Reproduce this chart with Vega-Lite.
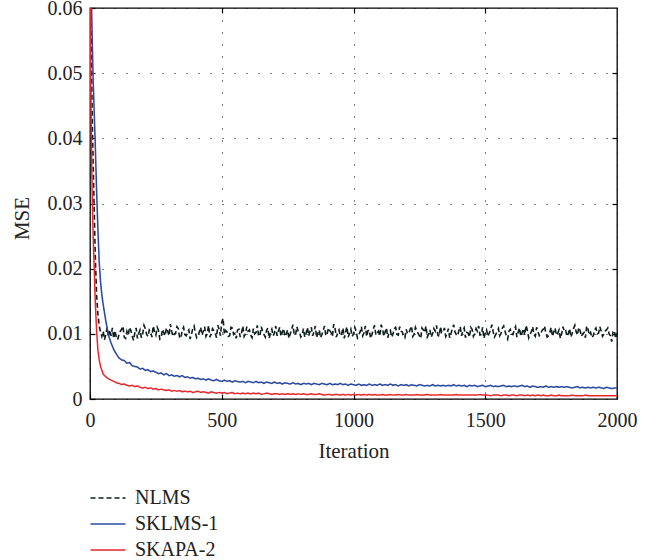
{
"$schema": "https://vega.github.io/schema/vega-lite/v6.json",
"width": 527, "height": 391,
"autosize": {"type": "none"},
"padding": {"left": 90, "top": 8, "right": 45, "bottom": 161},
"config": {
 "font": "Liberation Serif",
 "view": {"stroke": "black", "strokeWidth": 1.3},
 "axis": {"labelFont": "Liberation Serif", "titleFont": "Liberation Serif", "labelFontSize": 20, "titleFontSize": 21, "labelColor": "#222", "titleColor": "#222", "titleFontWeight": "normal", "domain": false, "tickColor": "black", "tickSize": -5, "tickWidth": 1.2, "labelFlush": false},
 "legend": {"labelFont": "Liberation Serif", "labelFontSize": 20, "labelColor": "#222"}
},
"datasets": {"main": [
{"x":0,"NLMS":0.07,"SKLMS-1":0.07,"SKAPA-2":0.07},
{"x":3,"NLMS":0.06,"SKLMS-1":0.065,"SKAPA-2":0.048},
{"x":6,"NLMS":0.05,"SKLMS-1":0.06,"SKAPA-2":0.037},
{"x":9,"NLMS":0.042,"SKLMS-1":0.054,"SKAPA-2":0.03},
{"x":12,"NLMS":0.036,"SKLMS-1":0.049,"SKAPA-2":0.025},
{"x":16,"NLMS":0.029,"SKLMS-1":0.044,"SKAPA-2":0.02},
{"x":20,"NLMS":0.022,"SKLMS-1":0.039,"SKAPA-2":0.015},
{"x":25,"NLMS":0.016,"SKLMS-1":0.032,"SKAPA-2":0.0105},
{"x":30,"NLMS":0.013,"SKLMS-1":0.026,"SKAPA-2":0.0075},
{"x":35,"NLMS":0.0112,"SKLMS-1":0.021,"SKAPA-2":0.006},
{"x":40,"NLMS":0.0103,"SKLMS-1":0.018,"SKAPA-2":0.005},
{"x":45,"NLMS":0.0096,"SKLMS-1":0.016,"SKAPA-2":0.0044},
{"x":50,"NLMS":0.0104,"SKLMS-1":0.0145,"SKAPA-2":0.0038},
{"x":55,"NLMS":0.0091},
{"x":60,"NLMS":0.0099,"SKLMS-1":0.012,"SKAPA-2":0.0034},
{"x":65,"NLMS":0.011},
{"x":70,"NLMS":0.0095,"SKLMS-1":0.0098,"SKAPA-2":0.0031},
{"x":75,"NLMS":0.0106},
{"x":80,"NLMS":0.0097,"SKLMS-1":0.0086,"SKAPA-2":0.0029},
{"x":85,"NLMS":0.0109},
{"x":90,"NLMS":0.0093,"SKLMS-1":0.0076,"SKAPA-2":0.0027},
{"x":95,"NLMS":0.0105},
{"x":100,"NLMS":0.0094,"SKLMS-1":0.0069,"SKAPA-2":0.0025},
{"x":105,"NLMS":0.0091},
{"x":110,"NLMS":0.0099,"SKLMS-1":0.0063,"SKAPA-2":0.0024},
{"x":115,"NLMS":0.0104},
{"x":120,"NLMS":0.0107,"SKLMS-1":0.006,"SKAPA-2":0.0022},
{"x":125,"NLMS":0.0112},
{"x":130,"NLMS":0.0095,"SKLMS-1":0.0059,"SKAPA-2":0.0023},
{"x":135,"NLMS":0.0093},
{"x":140,"NLMS":0.0104,"SKLMS-1":0.0055,"SKAPA-2":0.0021},
{"x":145,"NLMS":0.0098},
{"x":150,"NLMS":0.011,"SKLMS-1":0.0056,"SKAPA-2":0.002},
{"x":155,"NLMS":0.0105},
{"x":160,"NLMS":0.0097,"SKLMS-1":0.0051,"SKAPA-2":0.0021},
{"x":165,"NLMS":0.009},
{"x":170,"NLMS":0.0101,"SKLMS-1":0.005,"SKAPA-2":0.0019},
{"x":175,"NLMS":0.0109},
{"x":180,"NLMS":0.0093,"SKLMS-1":0.0049,"SKAPA-2":0.002},
{"x":185,"NLMS":0.0101},
{"x":190,"NLMS":0.0106,"SKLMS-1":0.0046,"SKAPA-2":0.0018},
{"x":195,"NLMS":0.0094},
{"x":200,"NLMS":0.01,"SKLMS-1":0.0047,"SKAPA-2":0.0017},
{"x":205,"NLMS":0.0113},
{"x":210,"NLMS":0.0108,"SKLMS-1":0.0044,"SKAPA-2":0.0018},
{"x":215,"NLMS":0.0099},
{"x":220,"NLMS":0.0096,"SKLMS-1":0.0045,"SKAPA-2":0.0016},
{"x":225,"NLMS":0.0106},
{"x":230,"NLMS":0.0103,"SKLMS-1":0.0042,"SKAPA-2":0.0017},
{"x":235,"NLMS":0.0095},
{"x":240,"NLMS":0.0112,"SKLMS-1":0.0043,"SKAPA-2":0.0015},
{"x":245,"NLMS":0.0103},
{"x":250,"NLMS":0.0098,"SKLMS-1":0.0041,"SKAPA-2":0.0016},
{"x":255,"NLMS":0.011},
{"x":260,"NLMS":0.0105,"SKLMS-1":0.0039,"SKAPA-2":0.0014},
{"x":265,"NLMS":0.0092},
{"x":270,"NLMS":0.0094,"SKLMS-1":0.004,"SKAPA-2":0.0015},
{"x":275,"NLMS":0.0107},
{"x":280,"NLMS":0.0102,"SKLMS-1":0.0037,"SKAPA-2":0.0014},
{"x":285,"NLMS":0.0097},
{"x":290,"NLMS":0.0109,"SKLMS-1":0.0039,"SKAPA-2":0.0013},
{"x":295,"NLMS":0.0104},
{"x":300,"NLMS":0.0097,"SKLMS-1":0.0036,"SKAPA-2":0.0014},
{"x":305,"NLMS":0.0115},
{"x":310,"NLMS":0.0104,"SKLMS-1":0.0037,"SKAPA-2":0.0012},
{"x":315,"NLMS":0.0096},
{"x":320,"NLMS":0.01,"SKLMS-1":0.0035,"SKAPA-2":0.0013},
{"x":325,"NLMS":0.0101},
{"x":330,"NLMS":0.0111,"SKLMS-1":0.0036,"SKAPA-2":0.0012},
{"x":335,"NLMS":0.0108},
{"x":340,"NLMS":0.0095,"SKLMS-1":0.0034,"SKAPA-2":0.0013},
{"x":345,"NLMS":0.0093},
{"x":350,"NLMS":0.0106,"SKLMS-1":0.0036,"SKAPA-2":0.0011},
{"x":355,"NLMS":0.011},
{"x":360,"NLMS":0.0099,"SKLMS-1":0.0033,"SKAPA-2":0.0012},
{"x":365,"NLMS":0.0097},
{"x":370,"NLMS":0.0103,"SKLMS-1":0.0034,"SKAPA-2":0.0011},
{"x":375,"NLMS":0.0106},
{"x":380,"NLMS":0.0092,"SKLMS-1":0.0032,"SKAPA-2":0.0012},
{"x":385,"NLMS":0.0099},
{"x":390,"NLMS":0.0108,"SKLMS-1":0.0033,"SKAPA-2":0.001},
{"x":395,"NLMS":0.0112},
{"x":400,"NLMS":0.0101,"SKLMS-1":0.0031,"SKAPA-2":0.0011},
{"x":405,"NLMS":0.0094},
{"x":410,"NLMS":0.0097,"SKLMS-1":0.0032,"SKAPA-2":0.0012},
{"x":415,"NLMS":0.0103},
{"x":420,"NLMS":0.011,"SKLMS-1":0.003,"SKAPA-2":0.001},
{"x":425,"NLMS":0.0098},
{"x":430,"NLMS":0.0104,"SKLMS-1":0.0031,"SKAPA-2":0.0011},
{"x":435,"NLMS":0.0111},
{"x":440,"NLMS":0.0096,"SKLMS-1":0.0029,"SKAPA-2":0.001},
{"x":445,"NLMS":0.01},
{"x":450,"NLMS":0.0113,"SKLMS-1":0.0031,"SKAPA-2":0.0009},
{"x":455,"NLMS":0.0095},
{"x":460,"NLMS":0.01,"SKLMS-1":0.0029,"SKAPA-2":0.0011},
{"x":465,"NLMS":0.0108},
{"x":470,"NLMS":0.0105,"SKLMS-1":0.0028,"SKAPA-2":0.001},
{"x":475,"NLMS":0.0102},
{"x":480,"NLMS":0.0094,"SKLMS-1":0.003,"SKAPA-2":0.0009},
{"x":485,"NLMS":0.0113},
{"x":490,"NLMS":0.0107,"SKLMS-1":0.0028,"SKAPA-2":0.001},
{"x":495,"NLMS":0.0097},
{"x":500,"NLMS":0.0118,"SKLMS-1":0.0027,"SKAPA-2":0.0009},
{"x":505,"NLMS":0.0124},
{"x":510,"NLMS":0.0099,"SKLMS-1":0.0029,"SKAPA-2":0.001},
{"x":515,"NLMS":0.0105},
{"x":520,"NLMS":0.0103,"SKLMS-1":0.0027,"SKAPA-2":0.0008},
{"x":525,"NLMS":0.0096},
{"x":530,"NLMS":0.0097,"SKLMS-1":0.0028,"SKAPA-2":0.0009},
{"x":535,"NLMS":0.011},
{"x":540,"NLMS":0.0109,"SKLMS-1":0.0026,"SKAPA-2":0.001},
{"x":545,"NLMS":0.0099},
{"x":550,"NLMS":0.0101,"SKLMS-1":0.0028,"SKAPA-2":0.0008},
{"x":555,"NLMS":0.0093},
{"x":560,"NLMS":0.0106,"SKLMS-1":0.0027,"SKAPA-2":0.0009},
{"x":565,"NLMS":0.0107},
{"x":570,"NLMS":0.0095,"SKLMS-1":0.0026,"SKAPA-2":0.0008},
{"x":575,"NLMS":0.0101},
{"x":580,"NLMS":0.0112,"SKLMS-1":0.0027,"SKAPA-2":0.0009},
{"x":585,"NLMS":0.0096},
{"x":590,"NLMS":0.01,"SKLMS-1":0.0025,"SKAPA-2":0.0008},
{"x":595,"NLMS":0.0111},
{"x":600,"NLMS":0.0104,"SKLMS-1":0.0027,"SKAPA-2":0.0009},
{"x":605,"NLMS":0.0106},
{"x":610,"NLMS":0.0098,"SKLMS-1":0.0026,"SKAPA-2":0.0008},
{"x":615,"NLMS":0.0094},
{"x":620,"NLMS":0.0108,"SKLMS-1":0.0025,"SKAPA-2":0.0009},
{"x":625,"NLMS":0.01},
{"x":630,"NLMS":0.0102,"SKLMS-1":0.0027,"SKAPA-2":0.0008},
{"x":635,"NLMS":0.0113},
{"x":640,"NLMS":0.0096,"SKLMS-1":0.0025,"SKAPA-2":0.0009},
{"x":645,"NLMS":0.0098},
{"x":650,"NLMS":0.0111,"SKLMS-1":0.0026,"SKAPA-2":0.0007},
{"x":655,"NLMS":0.0104},
{"x":660,"NLMS":0.0099,"SKLMS-1":0.0024,"SKAPA-2":0.0008},
{"x":665,"NLMS":0.0095},
{"x":670,"NLMS":0.0105,"SKLMS-1":0.0026,"SKAPA-2":0.0009},
{"x":675,"NLMS":0.0109},
{"x":680,"NLMS":0.0093,"SKLMS-1":0.0025,"SKAPA-2":0.0008},
{"x":685,"NLMS":0.0102},
{"x":690,"NLMS":0.0107,"SKLMS-1":0.0024,"SKAPA-2":0.0007},
{"x":695,"NLMS":0.0097},
{"x":700,"NLMS":0.0101,"SKLMS-1":0.0026,"SKAPA-2":0.0008},
{"x":705,"NLMS":0.0112},
{"x":710,"NLMS":0.0097,"SKLMS-1":0.0024,"SKAPA-2":0.0008},
{"x":715,"NLMS":0.0104},
{"x":720,"NLMS":0.011,"SKLMS-1":0.0025,"SKAPA-2":0.0007},
{"x":725,"NLMS":0.0096},
{"x":730,"NLMS":0.0103,"SKLMS-1":0.0023,"SKAPA-2":0.0008},
{"x":735,"NLMS":0.0108},
{"x":740,"NLMS":0.0096,"SKLMS-1":0.0025,"SKAPA-2":0.0007},
{"x":745,"NLMS":0.01},
{"x":750,"NLMS":0.0106,"SKLMS-1":0.0024,"SKAPA-2":0.0008},
{"x":755,"NLMS":0.0093},
{"x":760,"NLMS":0.01,"SKLMS-1":0.0023,"SKAPA-2":0.0007},
{"x":765,"NLMS":0.0106},
{"x":770,"NLMS":0.0114,"SKLMS-1":0.0025,"SKAPA-2":0.0008},
{"x":775,"NLMS":0.0099},
{"x":780,"NLMS":0.0098,"SKLMS-1":0.0023,"SKAPA-2":0.0007},
{"x":785,"NLMS":0.0111},
{"x":790,"NLMS":0.0104,"SKLMS-1":0.0024,"SKAPA-2":0.0008},
{"x":795,"NLMS":0.0103},
{"x":800,"NLMS":0.0095,"SKLMS-1":0.0022,"SKAPA-2":0.0007},
{"x":805,"NLMS":0.0098},
{"x":810,"NLMS":0.0108,"SKLMS-1":0.0024,"SKAPA-2":0.0008},
{"x":815,"NLMS":0.0095},
{"x":820,"NLMS":0.0101,"SKLMS-1":0.0023,"SKAPA-2":0.0007},
{"x":825,"NLMS":0.011},
{"x":830,"NLMS":0.0097,"SKLMS-1":0.0024,"SKAPA-2":0.0007},
{"x":835,"NLMS":0.0104},
{"x":840,"NLMS":0.011,"SKLMS-1":0.0022,"SKAPA-2":0.0008},
{"x":845,"NLMS":0.0097},
{"x":850,"NLMS":0.0103,"SKLMS-1":0.0024,"SKAPA-2":0.0007},
{"x":855,"NLMS":0.0112},
{"x":860,"NLMS":0.0094,"SKLMS-1":0.0023,"SKAPA-2":0.0007},
{"x":865,"NLMS":0.0101},
{"x":870,"NLMS":0.0106,"SKLMS-1":0.0022,"SKAPA-2":0.0008},
{"x":875,"NLMS":0.0094},
{"x":880,"NLMS":0.0099,"SKLMS-1":0.0024,"SKAPA-2":0.0007},
{"x":885,"NLMS":0.0105},
{"x":890,"NLMS":0.0112,"SKLMS-1":0.0023,"SKAPA-2":0.0006},
{"x":895,"NLMS":0.0097},
{"x":900,"NLMS":0.01,"SKLMS-1":0.0022,"SKAPA-2":0.0007},
{"x":905,"NLMS":0.0109},
{"x":910,"NLMS":0.0105,"SKLMS-1":0.0024,"SKAPA-2":0.0007},
{"x":915,"NLMS":0.0102},
{"x":920,"NLMS":0.0096,"SKLMS-1":0.0022,"SKAPA-2":0.0006},
{"x":925,"NLMS":0.0115},
{"x":930,"NLMS":0.0108,"SKLMS-1":0.0023,"SKAPA-2":0.0007},
{"x":935,"NLMS":0.0095},
{"x":940,"NLMS":0.0101,"SKLMS-1":0.0022,"SKAPA-2":0.0007},
{"x":945,"NLMS":0.0106},
{"x":950,"NLMS":0.0097,"SKLMS-1":0.0024,"SKAPA-2":0.0006},
{"x":955,"NLMS":0.01},
{"x":960,"NLMS":0.0109,"SKLMS-1":0.0022,"SKAPA-2":0.0007},
{"x":965,"NLMS":0.0093},
{"x":970,"NLMS":0.0103,"SKLMS-1":0.0023,"SKAPA-2":0.0006},
{"x":975,"NLMS":0.0111},
{"x":980,"NLMS":0.0095,"SKLMS-1":0.0021,"SKAPA-2":0.0007},
{"x":985,"NLMS":0.0101},
{"x":990,"NLMS":0.0107,"SKLMS-1":0.0023,"SKAPA-2":0.0006},
{"x":995,"NLMS":0.0096},
{"x":1000,"NLMS":0.01,"SKLMS-1":0.0022,"SKAPA-2":0.0007},
{"x":1005,"NLMS":0.011},
{"x":1010,"NLMS":0.0104,"SKLMS-1":0.0021,"SKAPA-2":0.0006},
{"x":1015,"NLMS":0.0094},
{"x":1020,"NLMS":0.0098,"SKLMS-1":0.0023,"SKAPA-2":0.0007},
{"x":1025,"NLMS":0.0103},
{"x":1030,"NLMS":0.0111,"SKLMS-1":0.0021,"SKAPA-2":0.0006},
{"x":1035,"NLMS":0.0097},
{"x":1040,"NLMS":0.0102,"SKLMS-1":0.0022,"SKAPA-2":0.0007},
{"x":1045,"NLMS":0.0112},
{"x":1050,"NLMS":0.0096,"SKLMS-1":0.0021,"SKAPA-2":0.0006},
{"x":1055,"NLMS":0.0105},
{"x":1060,"NLMS":0.0106,"SKLMS-1":0.0023,"SKAPA-2":0.0007},
{"x":1065,"NLMS":0.0093},
{"x":1070,"NLMS":0.0099,"SKLMS-1":0.0021,"SKAPA-2":0.0006},
{"x":1075,"NLMS":0.0107},
{"x":1080,"NLMS":0.0113,"SKLMS-1":0.0022,"SKAPA-2":0.0007},
{"x":1085,"NLMS":0.0098},
{"x":1090,"NLMS":0.0101,"SKLMS-1":0.0021,"SKAPA-2":0.0006},
{"x":1095,"NLMS":0.0104},
{"x":1100,"NLMS":0.0097,"SKLMS-1":0.0023,"SKAPA-2":0.0006},
{"x":1105,"NLMS":0.0114},
{"x":1110,"NLMS":0.0108,"SKLMS-1":0.0021,"SKAPA-2":0.0007},
{"x":1115,"NLMS":0.0096},
{"x":1120,"NLMS":0.0103,"SKLMS-1":0.0022,"SKAPA-2":0.0006},
{"x":1125,"NLMS":0.0109},
{"x":1130,"NLMS":0.0094,"SKLMS-1":0.0021,"SKAPA-2":0.0006},
{"x":1135,"NLMS":0.0102},
{"x":1140,"NLMS":0.0105,"SKLMS-1":0.0023,"SKAPA-2":0.0007},
{"x":1145,"NLMS":0.0095},
{"x":1150,"NLMS":0.01,"SKLMS-1":0.0021,"SKAPA-2":0.0006},
{"x":1155,"NLMS":0.0108},
{"x":1160,"NLMS":0.011,"SKLMS-1":0.0022,"SKAPA-2":0.0006},
{"x":1165,"NLMS":0.0099},
{"x":1170,"NLMS":0.0098,"SKLMS-1":0.002,"SKAPA-2":0.0007},
{"x":1175,"NLMS":0.0111},
{"x":1180,"NLMS":0.0104,"SKLMS-1":0.0022,"SKAPA-2":0.0006},
{"x":1185,"NLMS":0.0103},
{"x":1190,"NLMS":0.0096,"SKLMS-1":0.0021,"SKAPA-2":0.0006},
{"x":1195,"NLMS":0.0094},
{"x":1200,"NLMS":0.0107,"SKLMS-1":0.0022,"SKAPA-2":0.0007},
{"x":1205,"NLMS":0.01},
{"x":1210,"NLMS":0.0101,"SKLMS-1":0.002,"SKAPA-2":0.0006},
{"x":1215,"NLMS":0.0107},
{"x":1220,"NLMS":0.0112,"SKLMS-1":0.0022,"SKAPA-2":0.0006},
{"x":1225,"NLMS":0.0096},
{"x":1230,"NLMS":0.0099,"SKLMS-1":0.0021,"SKAPA-2":0.0006},
{"x":1235,"NLMS":0.011},
{"x":1240,"NLMS":0.0105,"SKLMS-1":0.002,"SKAPA-2":0.0007},
{"x":1245,"NLMS":0.0101},
{"x":1250,"NLMS":0.0097,"SKLMS-1":0.0022,"SKAPA-2":0.0006},
{"x":1255,"NLMS":0.0093},
{"x":1260,"NLMS":0.0109,"SKLMS-1":0.0021,"SKAPA-2":0.0006},
{"x":1265,"NLMS":0.0106},
{"x":1270,"NLMS":0.0102,"SKLMS-1":0.002,"SKAPA-2":0.0006},
{"x":1275,"NLMS":0.0112},
{"x":1280,"NLMS":0.0095,"SKLMS-1":0.0021,"SKAPA-2":0.0007},
{"x":1285,"NLMS":0.0099},
{"x":1290,"NLMS":0.0106,"SKLMS-1":0.002,"SKAPA-2":0.0006},
{"x":1295,"NLMS":0.0095},
{"x":1300,"NLMS":0.01,"SKLMS-1":0.0022,"SKAPA-2":0.0006},
{"x":1305,"NLMS":0.0108},
{"x":1310,"NLMS":0.0104,"SKLMS-1":0.002,"SKAPA-2":0.0006},
{"x":1315,"NLMS":0.0113},
{"x":1320,"NLMS":0.0098,"SKLMS-1":0.0021,"SKAPA-2":0.0006},
{"x":1325,"NLMS":0.0096},
{"x":1330,"NLMS":0.0111,"SKLMS-1":0.002,"SKAPA-2":0.0007},
{"x":1335,"NLMS":0.0102},
{"x":1340,"NLMS":0.0103,"SKLMS-1":0.0021,"SKAPA-2":0.0006},
{"x":1345,"NLMS":0.0109},
{"x":1350,"NLMS":0.0096,"SKLMS-1":0.002,"SKAPA-2":0.0006},
{"x":1355,"NLMS":0.01},
{"x":1360,"NLMS":0.0108,"SKLMS-1":0.0021,"SKAPA-2":0.0006},
{"x":1365,"NLMS":0.0094},
{"x":1370,"NLMS":0.0101,"SKLMS-1":0.002,"SKAPA-2":0.0006},
{"x":1375,"NLMS":0.0107},
{"x":1380,"NLMS":0.0114,"SKLMS-1":0.0022,"SKAPA-2":0.0006},
{"x":1385,"NLMS":0.0103},
{"x":1390,"NLMS":0.0099,"SKLMS-1":0.002,"SKAPA-2":0.0007},
{"x":1395,"NLMS":0.0097},
{"x":1400,"NLMS":0.0105,"SKLMS-1":0.0021,"SKAPA-2":0.0006},
{"x":1405,"NLMS":0.0111},
{"x":1410,"NLMS":0.0097,"SKLMS-1":0.002,"SKAPA-2":0.0006},
{"x":1415,"NLMS":0.0105},
{"x":1420,"NLMS":0.0109,"SKLMS-1":0.0021,"SKAPA-2":0.0006},
{"x":1425,"NLMS":0.0094},
{"x":1430,"NLMS":0.0102,"SKLMS-1":0.0019,"SKAPA-2":0.0006},
{"x":1435,"NLMS":0.0101},
{"x":1440,"NLMS":0.0095,"SKLMS-1":0.0021,"SKAPA-2":0.0006},
{"x":1445,"NLMS":0.011},
{"x":1450,"NLMS":0.0107,"SKLMS-1":0.002,"SKAPA-2":0.0006},
{"x":1455,"NLMS":0.0096},
{"x":1460,"NLMS":0.01,"SKLMS-1":0.0021,"SKAPA-2":0.0006},
{"x":1465,"NLMS":0.0108},
{"x":1470,"NLMS":0.0104,"SKLMS-1":0.0019,"SKAPA-2":0.0006},
{"x":1475,"NLMS":0.0112},
{"x":1480,"NLMS":0.0098,"SKLMS-1":0.002,"SKAPA-2":0.0007},
{"x":1485,"NLMS":0.0099},
{"x":1490,"NLMS":0.011,"SKLMS-1":0.0021,"SKAPA-2":0.0006},
{"x":1495,"NLMS":0.0093},
{"x":1500,"NLMS":0.0101,"SKLMS-1":0.0019,"SKAPA-2":0.0006},
{"x":1505,"NLMS":0.0106},
{"x":1510,"NLMS":0.0096,"SKLMS-1":0.002,"SKAPA-2":0.0006},
{"x":1515,"NLMS":0.0101},
{"x":1520,"NLMS":0.0106,"SKLMS-1":0.0021,"SKAPA-2":0.0005},
{"x":1525,"NLMS":0.0114},
{"x":1530,"NLMS":0.0103,"SKLMS-1":0.0019,"SKAPA-2":0.0006},
{"x":1535,"NLMS":0.0095},
{"x":1540,"NLMS":0.0099,"SKLMS-1":0.002,"SKAPA-2":0.0006},
{"x":1545,"NLMS":0.0103},
{"x":1550,"NLMS":0.0108,"SKLMS-1":0.0019,"SKAPA-2":0.0006},
{"x":1555,"NLMS":0.0097},
{"x":1560,"NLMS":0.0101,"SKLMS-1":0.002,"SKAPA-2":0.0005},
{"x":1565,"NLMS":0.0109},
{"x":1570,"NLMS":0.0112,"SKLMS-1":0.0021,"SKAPA-2":0.0006},
{"x":1575,"NLMS":0.0104},
{"x":1580,"NLMS":0.0097,"SKLMS-1":0.0019,"SKAPA-2":0.0006},
{"x":1585,"NLMS":0.0092},
{"x":1590,"NLMS":0.0104,"SKLMS-1":0.002,"SKAPA-2":0.0005},
{"x":1595,"NLMS":0.0107},
{"x":1600,"NLMS":0.01,"SKLMS-1":0.0019,"SKAPA-2":0.0006},
{"x":1605,"NLMS":0.0099},
{"x":1610,"NLMS":0.0106,"SKLMS-1":0.002,"SKAPA-2":0.0006},
{"x":1615,"NLMS":0.0111},
{"x":1620,"NLMS":0.0095,"SKLMS-1":0.0019,"SKAPA-2":0.0005},
{"x":1625,"NLMS":0.0102},
{"x":1630,"NLMS":0.0109,"SKLMS-1":0.002,"SKAPA-2":0.0006},
{"x":1635,"NLMS":0.0096},
{"x":1640,"NLMS":0.0102,"SKLMS-1":0.0021,"SKAPA-2":0.0006},
{"x":1645,"NLMS":0.0108},
{"x":1650,"NLMS":0.0098,"SKLMS-1":0.0019,"SKAPA-2":0.0005},
{"x":1655,"NLMS":0.0113},
{"x":1660,"NLMS":0.0105,"SKLMS-1":0.002,"SKAPA-2":0.0006},
{"x":1665,"NLMS":0.0094},
{"x":1670,"NLMS":0.01,"SKLMS-1":0.0018,"SKAPA-2":0.0005},
{"x":1675,"NLMS":0.0103},
{"x":1680,"NLMS":0.0111,"SKLMS-1":0.002,"SKAPA-2":0.0006},
{"x":1685,"NLMS":0.0099},
{"x":1690,"NLMS":0.0096,"SKLMS-1":0.0019,"SKAPA-2":0.0005},
{"x":1695,"NLMS":0.011},
{"x":1700,"NLMS":0.0104,"SKLMS-1":0.0018,"SKAPA-2":0.0006},
{"x":1705,"NLMS":0.0097},
{"x":1710,"NLMS":0.0099,"SKLMS-1":0.0019,"SKAPA-2":0.0005},
{"x":1715,"NLMS":0.0105},
{"x":1720,"NLMS":0.0107,"SKLMS-1":0.0018,"SKAPA-2":0.0006},
{"x":1725,"NLMS":0.0112},
{"x":1730,"NLMS":0.0101,"SKLMS-1":0.002,"SKAPA-2":0.0005},
{"x":1735,"NLMS":0.0095},
{"x":1740,"NLMS":0.0097,"SKLMS-1":0.0018,"SKAPA-2":0.0005},
{"x":1745,"NLMS":0.0102},
{"x":1750,"NLMS":0.011,"SKLMS-1":0.0019,"SKAPA-2":0.0006},
{"x":1755,"NLMS":0.0096},
{"x":1760,"NLMS":0.0103,"SKLMS-1":0.0018,"SKAPA-2":0.0005},
{"x":1765,"NLMS":0.0109},
{"x":1770,"NLMS":0.0098,"SKLMS-1":0.0019,"SKAPA-2":0.0005},
{"x":1775,"NLMS":0.0101},
{"x":1780,"NLMS":0.0106,"SKLMS-1":0.0018,"SKAPA-2":0.0006},
{"x":1785,"NLMS":0.0093},
{"x":1790,"NLMS":0.01,"SKLMS-1":0.0019,"SKAPA-2":0.0005},
{"x":1795,"NLMS":0.0111},
{"x":1800,"NLMS":0.0104,"SKLMS-1":0.0018,"SKAPA-2":0.0005},
{"x":1805,"NLMS":0.0106},
{"x":1810,"NLMS":0.0096,"SKLMS-1":0.0019,"SKAPA-2":0.0005},
{"x":1815,"NLMS":0.01},
{"x":1820,"NLMS":0.0108,"SKLMS-1":0.0018,"SKAPA-2":0.0005},
{"x":1825,"NLMS":0.0095},
{"x":1830,"NLMS":0.0101,"SKLMS-1":0.0017,"SKAPA-2":0.0006},
{"x":1835,"NLMS":0.0108},
{"x":1840,"NLMS":0.0113,"SKLMS-1":0.0018,"SKAPA-2":0.0005},
{"x":1845,"NLMS":0.0103},
{"x":1850,"NLMS":0.0098,"SKLMS-1":0.0019,"SKAPA-2":0.0005},
{"x":1855,"NLMS":0.011},
{"x":1860,"NLMS":0.0105,"SKLMS-1":0.0017,"SKAPA-2":0.0005},
{"x":1865,"NLMS":0.0096},
{"x":1870,"NLMS":0.01,"SKLMS-1":0.0018,"SKAPA-2":0.0005},
{"x":1875,"NLMS":0.0102},
{"x":1880,"NLMS":0.0094,"SKLMS-1":0.0017,"SKAPA-2":0.0006},
{"x":1885,"NLMS":0.0112},
{"x":1890,"NLMS":0.0107,"SKLMS-1":0.0018,"SKAPA-2":0.0005},
{"x":1895,"NLMS":0.0098},
{"x":1900,"NLMS":0.0102,"SKLMS-1":0.0017,"SKAPA-2":0.0005},
{"x":1905,"NLMS":0.0094},
{"x":1910,"NLMS":0.0097,"SKLMS-1":0.0018,"SKAPA-2":0.0005},
{"x":1915,"NLMS":0.0106},
{"x":1920,"NLMS":0.0109,"SKLMS-1":0.0017,"SKAPA-2":0.0005},
{"x":1925,"NLMS":0.01},
{"x":1930,"NLMS":0.0101,"SKLMS-1":0.0018,"SKAPA-2":0.0005},
{"x":1935,"NLMS":0.0111},
{"x":1940,"NLMS":0.0104,"SKLMS-1":0.0017,"SKAPA-2":0.0005},
{"x":1945,"NLMS":0.0096},
{"x":1950,"NLMS":0.0099,"SKLMS-1":0.0016,"SKAPA-2":0.0005},
{"x":1955,"NLMS":0.0104},
{"x":1960,"NLMS":0.0106,"SKLMS-1":0.0018,"SKAPA-2":0.0005},
{"x":1965,"NLMS":0.0109},
{"x":1970,"NLMS":0.01,"SKLMS-1":0.0017,"SKAPA-2":0.0005},
{"x":1975,"NLMS":0.0097},
{"x":1980,"NLMS":0.0088,"SKLMS-1":0.0016,"SKAPA-2":0.0005},
{"x":1985,"NLMS":0.0103},
{"x":1990,"NLMS":0.0105,"SKLMS-1":0.0017,"SKAPA-2":0.0005},
{"x":1995,"NLMS":0.0093},
{"x":2000,"NLMS":0.0101,"SKLMS-1":0.0017,"SKAPA-2":0.0005}
]},
"data": {"name": "main"},
"transform": [{"fold": ["NLMS", "SKLMS-1", "SKAPA-2"], "as": ["series", "mse"]}, {"filter": "isValid(datum.mse)"}],
"layer": [
 {
  "mark": {"type": "line", "clip": true},
  "encoding": {
   "x": {"field": "x", "type": "quantitative", "scale": {"domain": [0, 2000], "nice": false},
         "axis": {"orient": "bottom", "title": "Iteration", "values": [0, 500, 1000, 1500, 2000], "format": "d", "grid": true, "gridColor": "black", "gridDash": [1, 11], "gridOpacity": 1, "gridWidth": 1, "labelPadding": 16, "titlePadding": 10}},
   "y": {"field": "mse", "type": "quantitative", "scale": {"domain": [0, 0.06], "nice": false},
         "axis": {"orient": "left", "title": "MSE", "titleY": 210, "values": [0, 0.01, 0.02, 0.03, 0.04, 0.05, 0.06], "format": "~g", "grid": true, "gridColor": "black", "gridDash": [1, 11], "gridOpacity": 1, "gridWidth": 1, "labelPadding": 13, "titlePadding": 15}},
   "color": {"field": "series", "type": "nominal",
             "scale": {"domain": ["NLMS", "SKLMS-1", "SKAPA-2"], "range": ["#0f1f1c", "#2c4ba0", "#e8262c"]},
             "legend": {"title": null, "orient": "none", "legendX": -6, "legendY": 480, "symbolType": "M-1,0H9", "symbolSize": 49, "symbolStrokeWidth": 1.6, "labelOffset": 31, "rowPadding": 6}},
   "strokeDash": {"field": "series", "type": "nominal",
             "scale": {"domain": ["NLMS", "SKLMS-1", "SKAPA-2"], "range": [[5, 3], [1, 0], [1, 0]]},
             "legend": {"title": null, "orient": "none", "legendX": -6, "legendY": 480, "symbolType": "M-1,0H9", "symbolSize": 49, "symbolStrokeWidth": 1.6, "labelOffset": 31, "rowPadding": 6}},
   "strokeWidth": {"field": "series", "type": "nominal",
             "scale": {"domain": ["NLMS", "SKLMS-1", "SKAPA-2"], "range": [1.6, 1.5, 1.5]}, "legend": null}
  }
 },
 {
  "mark": {"type": "line", "opacity": 0},
  "encoding": {
   "x": {"field": "x", "type": "quantitative", "scale": {"domain": [0, 2000], "nice": false}, "axis": {"orient": "top", "title": null, "labels": false, "values": [500, 1000, 1500]}},
   "y": {"field": "mse", "type": "quantitative", "scale": {"domain": [0, 0.06], "nice": false}, "axis": {"orient": "right", "title": null, "labels": false, "values": [0.01, 0.02, 0.03, 0.04, 0.05]}}
  }
 }
],
"resolve": {"axis": {"x": "independent", "y": "independent"}}
}
